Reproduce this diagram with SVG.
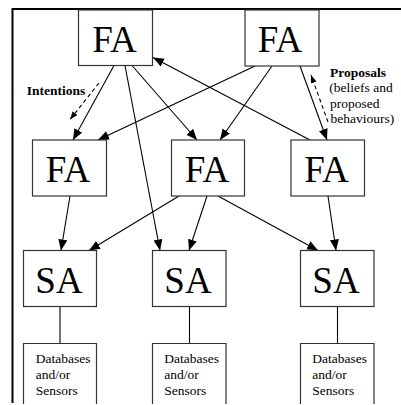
<svg xmlns="http://www.w3.org/2000/svg" width="401" height="405" viewBox="0 0 401 405">
<style>
.box{fill:#fff;stroke:#333;stroke-width:1.2}
.big{font-family:"Liberation Serif","Times New Roman",serif;font-size:37px;text-anchor:middle;fill:#000}
.small{font-family:"Liberation Serif","Times New Roman",serif;font-size:13.5px;fill:#000}
.bold{font-weight:bold}
.edge{stroke:#000;stroke-width:1.1;fill:none}
.dash{stroke:#000;stroke-width:1.1;fill:none;stroke-dasharray:4 3}
.frame{stroke:#000;stroke-width:2;fill:none}
</style>
<defs>
<marker id="ah" markerUnits="userSpaceOnUse" markerWidth="12" markerHeight="10" refX="11" refY="4.5" orient="auto">
<path d="M0,0 L11,4.5 L0,9 z" fill="#000"/>
</marker>
<marker id="sh" markerUnits="userSpaceOnUse" markerWidth="9" markerHeight="7" refX="8" refY="3" orient="auto">
<path d="M0,0 L8,3 L0,6 z" fill="#000"/>
</marker>
</defs>
<rect width="401" height="405" fill="#fff"/>
<g id="frame">
<line class="frame" x1="12" y1="9" x2="401" y2="9"/>
<line class="frame" x1="12.5" y1="8" x2="12.5" y2="403"/>
</g>
<g id="connectors">
<line class="edge" x1="114" y1="65.5" x2="73" y2="140" marker-end="url(#ah)"/>
<line class="edge" x1="125" y1="65.5" x2="160" y2="250.5" marker-end="url(#ah)"/>
<line class="edge" x1="132" y1="65.5" x2="197" y2="140" marker-end="url(#ah)"/>
<line class="edge" x1="310" y1="140" x2="153" y2="57.5" marker-end="url(#ah)"/>
<line class="edge" x1="255" y1="66" x2="98" y2="140" marker-end="url(#ah)"/>
<line class="edge" x1="272" y1="66" x2="220" y2="140" marker-end="url(#ah)"/>
<line class="edge" x1="300" y1="66" x2="327" y2="140" marker-end="url(#ah)"/>
<line class="edge" x1="70" y1="196" x2="61" y2="250.5" marker-end="url(#ah)"/>
<line class="edge" x1="179" y1="196" x2="89" y2="250.5" marker-end="url(#ah)"/>
<line class="edge" x1="207" y1="196" x2="189" y2="250.5" marker-end="url(#ah)"/>
<line class="edge" x1="218" y1="196" x2="318" y2="250.5" marker-end="url(#ah)"/>
<line class="edge" x1="328" y1="196" x2="336" y2="250.5" marker-end="url(#ah)"/>
<line class="edge" x1="60" y1="306.5" x2="60" y2="343.5"/>
<line class="edge" x1="189.5" y1="306.5" x2="189.5" y2="343.5"/>
<line class="edge" x1="337.5" y1="306.5" x2="337.5" y2="343.5"/>
<line class="dash" x1="99" y1="83" x2="70" y2="119.5" marker-end="url(#sh)"/>
<line class="dash" x1="328" y1="122" x2="311" y2="75" marker-end="url(#sh)"/>
</g>
<g id="fa-top-1">
<rect class="box" x="78.5" y="10" width="74" height="55.5"/>
<text class="big" x="114.5" y="51.7">FA</text>
</g>
<g id="fa-top-2">
<rect class="box" x="245" y="10" width="74" height="56"/>
<text class="big" x="280" y="51.7">FA</text>
</g>
<g id="fa-mid-1">
<rect class="box" x="32.5" y="140" width="74" height="56"/>
<text class="big" x="68" y="182.3">FA</text>
</g>
<g id="fa-mid-2">
<rect class="box" x="171.5" y="140" width="73" height="56"/>
<text class="big" x="207" y="182.3">FA</text>
</g>
<g id="fa-mid-3">
<rect class="box" x="291" y="140" width="73.5" height="56"/>
<text class="big" x="326.5" y="182.3">FA</text>
</g>
<g id="sa-1">
<rect class="box" x="23.5" y="250.5" width="73" height="56"/>
<text class="big" x="59" y="293.3">SA</text>
</g>
<g id="sa-2">
<rect class="box" x="152.5" y="250.5" width="73.5" height="56"/>
<text class="big" x="188" y="293.3">SA</text>
</g>
<g id="sa-3">
<rect class="box" x="300.5" y="250.5" width="73.5" height="56"/>
<text class="big" x="336" y="293.3">SA</text>
</g>
<g id="db-1">
<path class="box" d="M23.5,404 V343.5 H96.5 V404"/>
<text class="small" x="35.7" y="362.7">Databases</text>
<text class="small" x="35.7" y="379.3">and/or</text>
<text class="small" x="35.7" y="395">Sensors</text>
</g>
<g id="db-2">
<path class="box" d="M152.5,404 V343.5 H226 V404"/>
<text class="small" x="164.3" y="362.7">Databases</text>
<text class="small" x="164.3" y="379.3">and/or</text>
<text class="small" x="164.3" y="395">Sensors</text>
</g>
<g id="db-3">
<path class="box" d="M300.5,404 V343.5 H374 V404"/>
<text class="small" x="312.3" y="362.7">Databases</text>
<text class="small" x="312.3" y="379.3">and/or</text>
<text class="small" x="312.3" y="395">Sensors</text>
</g>
<g id="label-intentions">
<text class="small bold" x="26.7" y="95">Intentions</text>
</g>
<g id="label-proposals">
<text class="small bold" x="330" y="76.7">Proposals</text>
<text class="small" x="329.3" y="92">(beliefs and</text>
<text class="small" x="330" y="107.5">proposed</text>
<text class="small" x="330.5" y="123">behaviours)</text>
</g>
</svg>
